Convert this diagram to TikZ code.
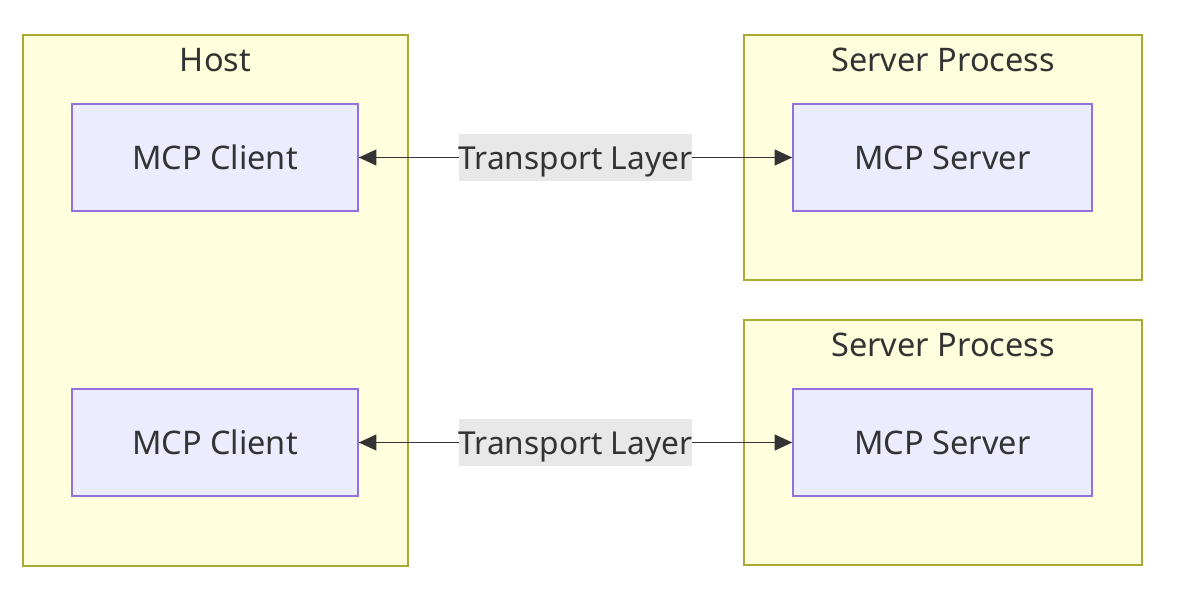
\documentclass[tikz,border=0pt]{standalone}
\usepackage{fontspec}
\setmainfont{Noto Sans}
\usetikzlibrary{arrows.meta}
\definecolor{boxfill}{HTML}{FFFFDE}
\definecolor{boxline}{HTML}{AAAA33}
\definecolor{nodefill}{HTML}{ECECFF}
\definecolor{nodeline}{HTML}{9370DB}
\definecolor{labelfill}{HTML}{E8E8E8}
\definecolor{textcol}{HTML}{333333}
\tikzset{
	group/.style={draw=boxline, fill=boxfill, line width=0.9pt},
	comp/.style={draw=nodeline, fill=nodefill, line width=0.9pt, minimum width=5.72cm, minimum height=2.14cm, text=textcol, font=\fontsize{18.5}{22}\selectfont},
	title/.style={text=textcol, font=\fontsize{18.5}{22}\selectfont},
	link/.style={draw=textcol, line width=0.9pt, {Triangle[length=10pt,width=9pt]}-{Triangle[length=10pt,width=9pt]}},
	tlabel/.style={fill=labelfill, text=textcol, font=\fontsize{18}{22}\selectfont, inner sep=0pt, text height=0.71cm, text depth=0.23cm}
}
\begin{document}
\begin{tikzpicture}[x=0.02cm, y=-0.02cm]
\useasboundingbox (0,0) rectangle (1192,588);
%containers
	\draw[group] (23, 35) rectangle (408, 566);
	\node[title] (host) at (215.5, 60) {Host};
	\foreach \y/ \name in {35/sp1, 320/sp2}{
		\draw[group] (744, \y) rectangle (1142, \y+245);
		\node[title] (\name) at (943, \y+25) {Server Process};
	}

%clients and servers
	\foreach \y/ \i in {157.5/1, 442.5/2}{
		\node[comp, minimum width=5.72cm] (client\i) at (215, \y) {MCP Client};
		\node[comp, minimum width=5.98cm] (server\i) at (942.5, \y) {MCP Server};
		\draw[link] (client\i) -- (server\i);
		\node[tlabel] (tl\i) at (575.5, \y) {Transport Layer};
	}
\end{tikzpicture}
\end{document}
